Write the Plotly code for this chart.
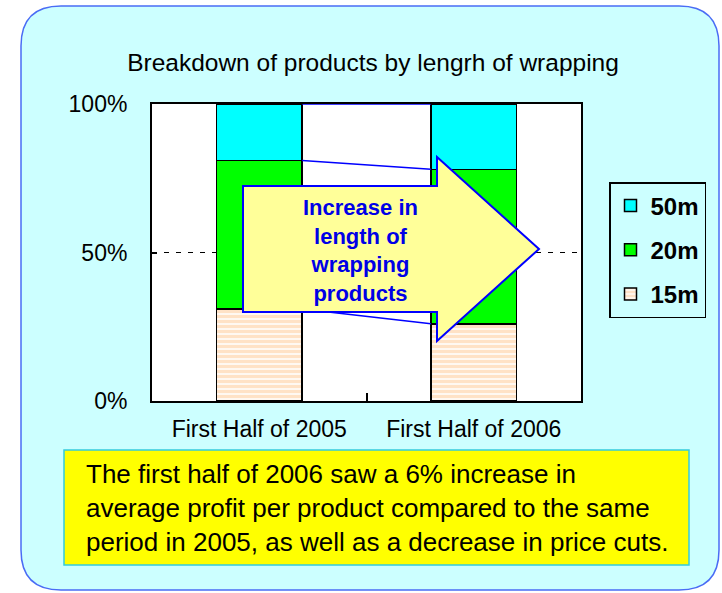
import plotly.graph_objects as go

# ---- data ----
categories = ["First Half of 2005", "First Half of 2006"]
series_names = ["15m", "20m", "50m"]
share_15m = [31, 26]
share_20m = [50, 52]
share_50m = [19, 22]
y_tick_vals = [0, 50, 100]
y_tick_text = ["0%", "50%", "100%"]

title_text = "Breakdown of products by lengrh of wrapping"
arrow_text = "Increase in<br>length of<br>wrapping<br>products"
note_text = ("The first half of 2006 saw a 6% increase in<br>"
             "average profit per product compared to the same<br>"
             "period in 2005, as well as a decrease in price cuts.")

FONT = "Liberation Sans, Arial, sans-serif"
BAR_W = 0.4

# layout geometry (pixels)
W, H = 722, 593
L, R, T, B = 152, 141, 104, 192
PW, PH = W - L - R, H - T - B


def px(x):
    return (x - L) / PW


def py(y):
    return (H - B - y) / PH


fig = go.Figure()

fig.add_trace(go.Bar(
    name="15m", x=categories, y=share_15m, width=BAR_W, legendgroup="a",
    legendrank=3,
    marker=dict(color="white", line=dict(color="black", width=1.5),
                pattern=dict(shape="-", fgcolor="#FFC58E", bgcolor="white",
                             size=5, solidity=0.7)),
))
fig.add_trace(go.Bar(
    name="20m", x=categories, y=share_20m, width=BAR_W, legendgroup="b",
    legendrank=2,
    marker=dict(color="#00FF00", line=dict(color="black", width=1.5)),
))
fig.add_trace(go.Bar(
    name="50m", x=categories, y=share_50m, width=BAR_W, legendgroup="c",
    legendrank=1,
    marker=dict(color="#00FFFF", line=dict(color="black", width=1.5)),
))

shapes = []
# outer rounded background panel
x0, x1 = px(21), px(719)
y0, y1 = py(590), py(6)
rx, ry = 40 / PW, 40 / PH
path = (f"M {x0+rx},{y1} L {x1-rx},{y1} Q {x1},{y1} {x1},{y1-ry} "
        f"L {x1},{y0+ry} Q {x1},{y0} {x1-rx},{y0} "
        f"L {x0+rx},{y0} Q {x0},{y0} {x0},{y0+ry} "
        f"L {x0},{y1-ry} Q {x0},{y1} {x0+rx},{y1} Z")
shapes.append(dict(type="path", xref="paper", yref="paper", path=path,
                   fillcolor="#CCFFFF", line=dict(color="#4A6CF5", width=1.5),
                   layer="below"))
# white plotting area
shapes.append(dict(type="rect", xref="paper", yref="paper",
                   x0=0, x1=1, y0=0, y1=1, fillcolor="white",
                   line=dict(width=0), layer="below"))
# yellow note box
shapes.append(dict(type="rect", xref="paper", yref="paper",
                   x0=px(64), x1=px(689), y0=py(565), y1=py(450),
                   fillcolor="#FFFF00", line=dict(color="#33CCDD", width=1.5),
                   layer="below"))

# series lines between stacked segments
cum = [0, 0]
levels = []
for vals in (share_15m, share_20m, share_50m):
    cum = [c + v for c, v in zip(cum, vals)]
    levels.append(list(cum))
for lv in levels:
    shapes.append(dict(type="line", xref="x", yref="y",
                       x0=0 + BAR_W / 2, x1=1 - BAR_W / 2, y0=lv[0], y1=lv[1],
                       line=dict(color="#0000FF", width=1.5), layer="above"))

# big arrow
ax0, ax1, ax2 = px(243), px(437), px(539)
ay_top, ay_bot = py(186), py(312)
ah_top, ah_bot, a_tip = py(157), py(341), py(249)
arrow_path = (f"M {ax0},{ay_top} L {ax1},{ay_top} L {ax1},{ah_top} "
              f"L {ax2},{a_tip} L {ax1},{ah_bot} L {ax1},{ay_bot} "
              f"L {ax0},{ay_bot} Z")
shapes.append(dict(type="path", xref="paper", yref="paper", path=arrow_path,
                   fillcolor="#FFFF99", line=dict(color="#0000FF", width=2),
                   layer="above"))

annotations = [
    dict(text=arrow_text, xref="paper", yref="paper", x=px(360), y=py(250),
         xanchor="center", yanchor="middle", showarrow=False, align="center",
         font=dict(family=FONT, size=22, color="#0000E6", weight="bold")),
    dict(text=note_text, xref="paper", yref="paper", x=px(84), y=py(508),
         xanchor="left", yanchor="middle", showarrow=False, align="left",
         font=dict(family=FONT, size=26, color="black")),
]

fig.update_layout(
    width=W, height=H, autosize=False,
    margin=dict(l=L, r=R, t=T, b=B),
    paper_bgcolor="white", plot_bgcolor="white",
    barmode="stack",
    title=dict(text=title_text, x=373 / W, y=1 - 62 / H, xanchor="center",
               yanchor="middle", xref="container", yref="container",
               font=dict(family=FONT, size=24.5, color="black")),
    shapes=shapes, annotations=annotations,
    showlegend=True,
    legend=dict(x=px(609), y=py(182), xanchor="left", yanchor="top",
                traceorder="grouped", tracegroupgap=10,
                bgcolor="#CCFFFF", bordercolor="black", borderwidth=1.5,
                font=dict(family=FONT, size=24, color="black", weight="bold")),
    font=dict(family=FONT, color="black"),
    hovermode=False,
)
fig.update_xaxes(type="category", range=[-0.5, 1.5], tickson="boundaries",
                 ticks="inside", ticklen=8, tickwidth=1.5, tickcolor="black",
                 showline=True, mirror=True, linecolor="black", linewidth=2,
                 showgrid=False, ticklabelstandoff=6,
                 tickfont=dict(family=FONT, size=23, color="black"))
fig.update_yaxes(range=[0, 100], tickvals=y_tick_vals, ticktext=y_tick_text,
                 ticks="inside", ticklen=5, tickwidth=1.5, tickcolor="black",
                 showline=True, mirror=True, linecolor="black", linewidth=2,
                 showgrid=True, gridcolor="black", gridwidth=1,
                 griddash="5px,7px", zeroline=False, ticklabelstandoff=18,
                 tickfont=dict(family=FONT, size=23, color="black"))

fig.write_html("out.html", config={"displayModeBar": False},
               post_script="document.body.style.margin='0';")
